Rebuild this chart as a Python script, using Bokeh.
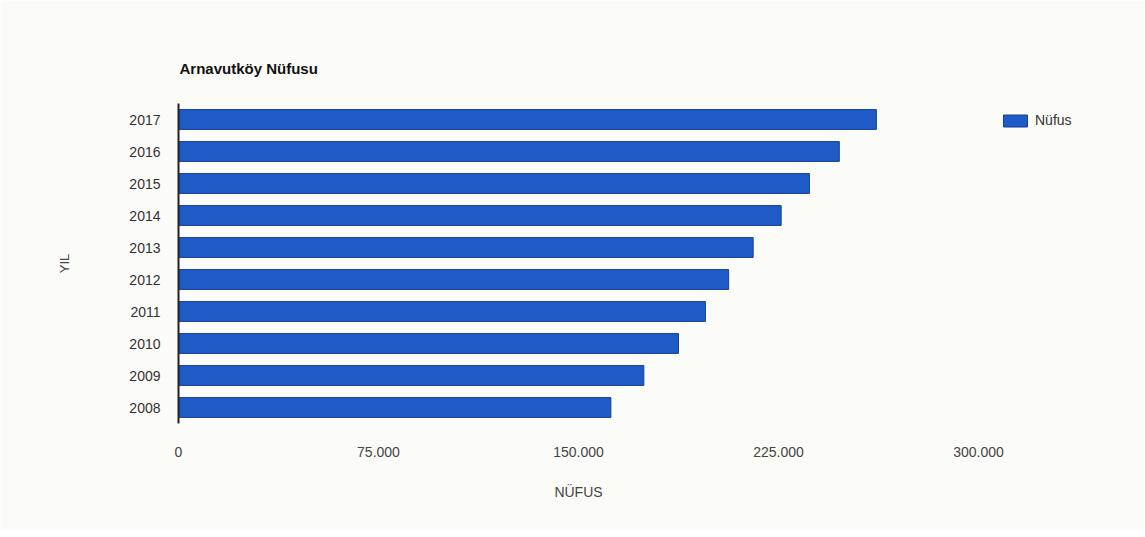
from bokeh.plotting import figure
from bokeh.models import ColumnDataSource, FactorRange, Range1d, Legend, LegendItem, FixedTicker, CustomJSTickFormatter
from bokeh.embed import file_html
from bokeh.resources import INLINE

years = ["2008", "2009", "2010", "2011", "2012", "2013", "2014", "2015", "2016", "2017"]
population = [162140, 174500, 187500, 197600, 206300, 215500, 226000, 236600, 247800, 261700]
tick_values = [0, 75000, 150000, 225000, 300000]

source = ColumnDataSource(dict(year=years, pop=population))

p = figure(frame_width=800, frame_height=320, output_backend="svg", toolbar_location=None,
           y_range=FactorRange(factors=years), x_range=Range1d(0, 300000),
           min_border_left=178, min_border_right=159, min_border_top=103, min_border_bottom=106)

bars = p.hbar(y="year", right="pop", left=0, height=0.62, source=source,
              fill_color="#1f5bc6", line_color="#163f9a", line_width=1)

p.title.text = "Arnavutköy Nüfusu"
p.title.text_font = "Liberation Sans"
p.title.text_font_size = "15px"
p.title.text_font_style = "bold"
p.title.text_color = "#111111"
p.title.offset = 1
p.title.standoff = 53

font = "Liberation Sans"
p.xaxis.ticker = FixedTicker(ticks=tick_values)
p.xaxis.formatter = CustomJSTickFormatter(code="return tick.toLocaleString('de-DE');")
p.xaxis.axis_line_color = None
p.xaxis.major_tick_line_color = None
p.xaxis.minor_tick_line_color = None
p.xaxis.major_label_standoff = 17
p.xaxis.major_label_text_font = font
p.xaxis.major_label_text_font_size = "14px"
p.xaxis.major_label_text_color = "#444444"
p.xaxis.axis_label = "NÜFUS"
p.xaxis.axis_label_text_font = font
p.xaxis.axis_label_text_font_size = "14px"
p.xaxis.axis_label_text_font_style = "normal"
p.xaxis.axis_label_text_color = "#444444"
p.xaxis.axis_label_standoff = 24

p.yaxis.axis_line_color = "#222222"
p.yaxis.axis_line_width = 2
p.yaxis.major_tick_line_color = None
p.yaxis.minor_tick_line_color = None
p.yaxis.major_label_standoff = 12
p.yaxis.major_label_text_font = font
p.yaxis.major_label_text_font_size = "14px"
p.yaxis.major_label_text_color = "#333333"
p.yaxis.axis_label = "YIL"
p.yaxis.axis_label_text_font = font
p.yaxis.axis_label_text_font_size = "13px"
p.yaxis.axis_label_text_font_style = "normal"
p.yaxis.axis_label_text_color = "#444444"
p.yaxis.axis_label_standoff = 54

p.xgrid.grid_line_color = None
p.ygrid.grid_line_color = None
p.outline_line_color = None
p.background_fill_color = "#fbfbf8"
p.border_fill_color = "#fbfbf8"

legend = Legend(items=[LegendItem(label="Nüfus", renderers=[bars])], location=(22, 295),
                glyph_width=30, glyph_height=15, label_text_font=font,
                label_text_font_size="14px", label_text_color="#333333",
                border_line_color=None, background_fill_alpha=0, margin=0,
                padding=0, label_standoff=5, label_height=15)
p.add_layout(legend, "right")

open("out.html", "w").write(file_html(p, INLINE))
